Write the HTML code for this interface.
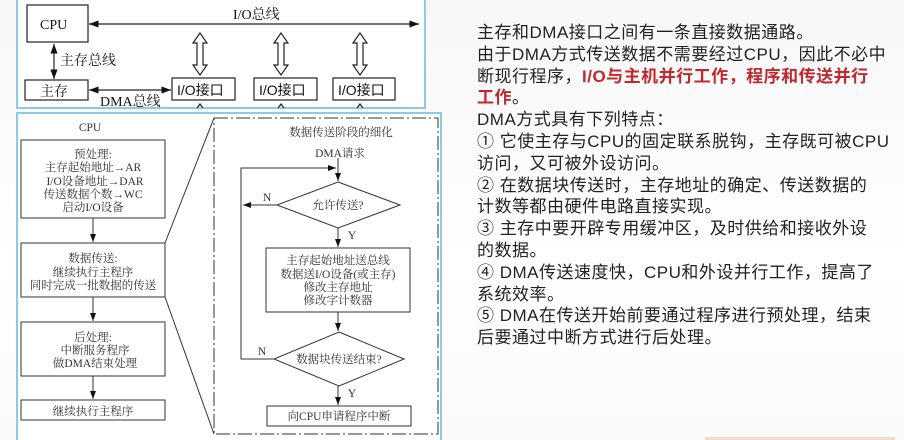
<!DOCTYPE html>
<html><head><meta charset="utf-8"><style>
body{margin:0;width:904px;height:440px;overflow:hidden;background:linear-gradient(#f7f7f7,#ffffff 60%,#fafafa);font-family:"Liberation Sans","Noto Sans CJK SC",sans-serif;position:relative}
svg{position:absolute;left:0;top:0}
.t{position:absolute;left:477px;top:22px;font-size:17px;line-height:21.8px;color:#222;white-space:nowrap;letter-spacing:0.5px}
.r{color:#c0282d;font-weight:bold}
</style></head><body>
<svg width="904" height="440" xmlns="http://www.w3.org/2000/svg" font-family="Liberation Serif,Noto Serif CJK SC,serif">
<defs><marker id="a" markerWidth="8" markerHeight="6" refX="8" refY="3" orient="auto-start-reverse"><path d="M0,0L8,3L0,6z" fill="#111"/></marker></defs>
<rect x="17" y="-2" width="408" height="110" fill="#fff" stroke="#8ccbe8" stroke-width="2"/>
<rect x="17" y="113" width="424" height="330" fill="#fff" stroke="#8ccbe8" stroke-width="2"/>
<g stroke="#222" fill="none" stroke-width="1.2">
<rect x="27" y="5" width="61" height="37"/>
<rect x="25" y="80" width="63" height="20"/>
<rect x="172" y="78" width="63" height="22"/><rect x="254" y="78" width="63" height="22"/><rect x="333" y="78" width="62" height="22"/>
<line x1="89" y1="24" x2="419" y2="24" marker-start="url(#a)" marker-end="url(#a)"/>
<line x1="54" y1="44" x2="54" y2="79" marker-start="url(#a)" marker-end="url(#a)"/>
<line x1="89" y1="90" x2="171" y2="90" marker-start="url(#a)" marker-end="url(#a)"/>
<path d="M200,33l-7,10h4v22h-4l7,10l7,-10h-4v-22h4z"/>
<path d="M281,33l-7,10h4v22h-4l7,10l7,-10h-4v-22h4z"/>
<path d="M360,33l-7,10h4v22h-4l7,10l7,-10h-4v-22h4z"/>
<path d="M197,108l3,-4l3,4M278,108l3,-4l3,4M357,108l3,-4l3,4"/>
</g>
<g font-size="14" fill="#111">
<text x="40" y="29">CPU</text><text x="40" y="96">主存</text>
<text x="233" y="19">I/O总线</text><text x="60" y="65">主存总线</text><text x="100" y="106">DMA总线</text>
<text x="177" y="95" font-family="Liberation Sans,Noto Sans CJK SC,sans-serif">I/O接口</text>
<text x="259" y="95" font-family="Liberation Sans,Noto Sans CJK SC,sans-serif">I/O接口</text>
<text x="338" y="95" font-family="Liberation Sans,Noto Sans CJK SC,sans-serif">I/O接口</text>
</g>
<g stroke="#333" fill="none" stroke-width="1">
<rect x="21" y="140" width="144" height="78"/><rect x="21" y="243" width="144" height="54"/>
<rect x="21" y="322" width="144" height="54"/><rect x="21" y="400" width="144" height="20"/>
<line x1="93" y1="218" x2="93" y2="242" marker-end="url(#a)"/>
<line x1="93" y1="297" x2="93" y2="321" marker-end="url(#a)"/>
<line x1="93" y1="376" x2="93" y2="399" marker-end="url(#a)"/>
<rect x="214" y="118" width="224" height="316" stroke-dasharray="14,3,2,3"/>
<line x1="165" y1="243" x2="214" y2="118"/><line x1="165" y1="297" x2="214" y2="434"/>
<path d="M338,182L400,205L338,228L277,205Z"/><path d="M339,332L404,359L339,386L274,359Z"/>
<rect x="266" y="248" width="144" height="64"/><rect x="267" y="406" width="144" height="20"/>
<line x1="338" y1="158" x2="338" y2="181" marker-end="url(#a)"/>
<line x1="338" y1="228" x2="338" y2="247" marker-end="url(#a)"/>
<line x1="338" y1="312" x2="338" y2="331" marker-end="url(#a)"/>
<line x1="338" y1="386" x2="338" y2="405" marker-end="url(#a)"/>
<line x1="277" y1="205" x2="243" y2="205" marker-end="url(#a)"/>
<path d="M274,359H241V168H336" marker-end="url(#a)"/>
</g>
<g font-size="11.5" fill="#333" text-anchor="middle">
<text x="90" y="131">CPU</text>
<text x="93" y="158">预处理:</text><text x="93" y="171">主存起始地址→AR</text><text x="95" y="185">I/O设备地址→DAR</text><text x="93" y="198">传送数据个数→WC</text><text x="93" y="211">启动I/O设备</text>
<text x="93" y="262">数据传送:</text><text x="93" y="276">继续执行主程序</text><text x="93" y="289">同时完成一批数据的传送</text>
<text x="93" y="341">后处理:</text><text x="95" y="354">中断服务程序</text><text x="95" y="367">做DMA结束处理</text>
<text x="93" y="415">继续执行主程序</text>
<text x="341" y="136">数据传送阶段的细化</text><text x="340" y="157">DMA请求</text>
<text x="338" y="209">允许传送?</text>
<text x="338" y="264">主存起始地址送总线</text><text x="338" y="278">数据送I/O设备(或主存)</text><text x="338" y="291">修改主存地址</text><text x="338" y="304">修改字计数器</text>
<text x="339" y="363">数据块传送结束?</text><text x="339" y="420">向CPU申请程序中断</text>
<text x="267" y="201">N</text><text x="262" y="355">N</text><text x="352" y="239">Y</text><text x="352" y="397">Y</text>
</g>
<rect x="705" y="437" width="190" height="3" fill="#f3dccb"/>
</svg>
<div class="t">主存和DMA接口之间有一条直接数据通路。<br>由于DMA方式传送数据不需要经过CPU，因此不必中<br>断现行程序，<span class="r">I/O与主机并行工作，程序和传送并行</span><br><span class="r">工作</span>。<br>DMA方式具有下列特点：<br>① 它使主存与CPU的固定联系脱钩，主存既可被CPU<br>访问，又可被外设访问。<br>② 在数据块传送时，主存地址的确定、传送数据的<br>计数等都由硬件电路直接实现。<br>③ 主存中要开辟专用缓冲区，及时供给和接收外设<br>的数据。<br>④ DMA传送速度快，CPU和外设并行工作，提高了<br>系统效率。<br>⑤ DMA在传送开始前要通过程序进行预处理，结束<br>后要通过中断方式进行后处理。</div>
</body></html>
